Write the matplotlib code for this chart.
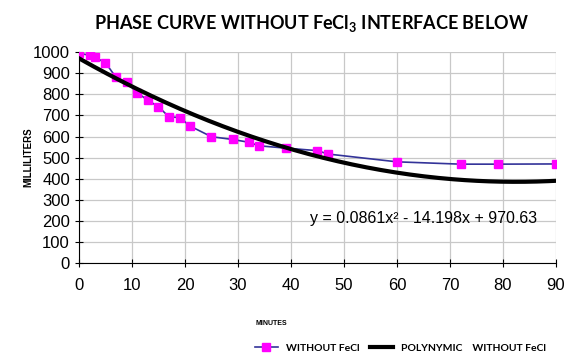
import numpy as np
import matplotlib.pyplot as plt

plt.rcParams['font.family'] = ['Liberation Sans', 'DejaVu Sans']
plt.rcParams['mathtext.fontset'] = 'custom'
plt.rcParams['mathtext.rm'] = 'Lato:bold'
plt.rcParams['mathtext.bf'] = 'Lato:bold'

minutes = [0, 2, 3, 5, 7, 9, 11, 13, 15, 17, 19, 21, 25, 29, 32, 34, 39, 45, 47, 60, 72, 79, 90]
milliliters = [995, 985, 975, 950, 880, 858, 807, 772, 741, 693, 690, 649, 599, 586,
               573, 556, 545, 533, 517, 480, 469, 469, 470]
# trendline coefficients as printed on the chart
poly_coef = [0.0861, -14.198, 970.63]

fig = plt.figure(figsize=(5.72, 3.57), dpi=100)
ax = fig.add_axes([0.138, 0.263, 0.834, 0.591])

xs = np.linspace(0, 90, 200)
ax.plot(minutes, milliliters, color="#333399", linewidth=1.2, marker="s",
        markersize=6, markerfacecolor="#ff00ff", markeredgecolor="#ff00ff",
        label="WITHOUT FeCl", zorder=3)
ax.plot(xs, np.polyval(poly_coef, xs), color="black", linewidth=3,
        label="POLYNYMIC    WITHOUT FeCl", zorder=4)

ax.set_xlim(0, 90)
ax.set_ylim(0, 1000)
ax.set_xticks(range(0, 91, 10))
ax.set_yticks(range(0, 1001, 100))
ax.grid(True, color="#c8c8c8", linewidth=0.9)
ax.set_axisbelow(True)
for s in ["top", "right"]:
    ax.spines[s].set_visible(False)
ax.tick_params(direction="inout", length=6, labelsize=12, colors="black")
ax.tick_params(axis="x", pad=8)

ax.text(65, 213, "y = 0.0861x² - 14.198x + 970.63", ha="center", va="center", fontsize=11.5)

fig.text(0.545, 0.935, r"PHASE CURVE WITHOUT FeCl$_\mathbf{3}$ INTERFACE BELOW",
         ha="center", va="center", fontsize=13, family="Lato", fontweight="bold")
fig.text(0.05, 0.56, "MILLILITERS", rotation=90, ha="center", va="center",
         fontsize=7, fontweight="bold")
fig.text(0.475, 0.093, "MINUTES", ha="center", va="center", fontsize=5, fontweight="bold")

fig.legend(loc="center", bbox_to_anchor=(0.70, 0.025), ncol=2, frameon=False,
           prop={"family": "Lato", "weight": "bold", "size": 7.5}, handlelength=2.2,
           columnspacing=1.0, handletextpad=0.8)

fig.savefig("out.png", dpi=100)
